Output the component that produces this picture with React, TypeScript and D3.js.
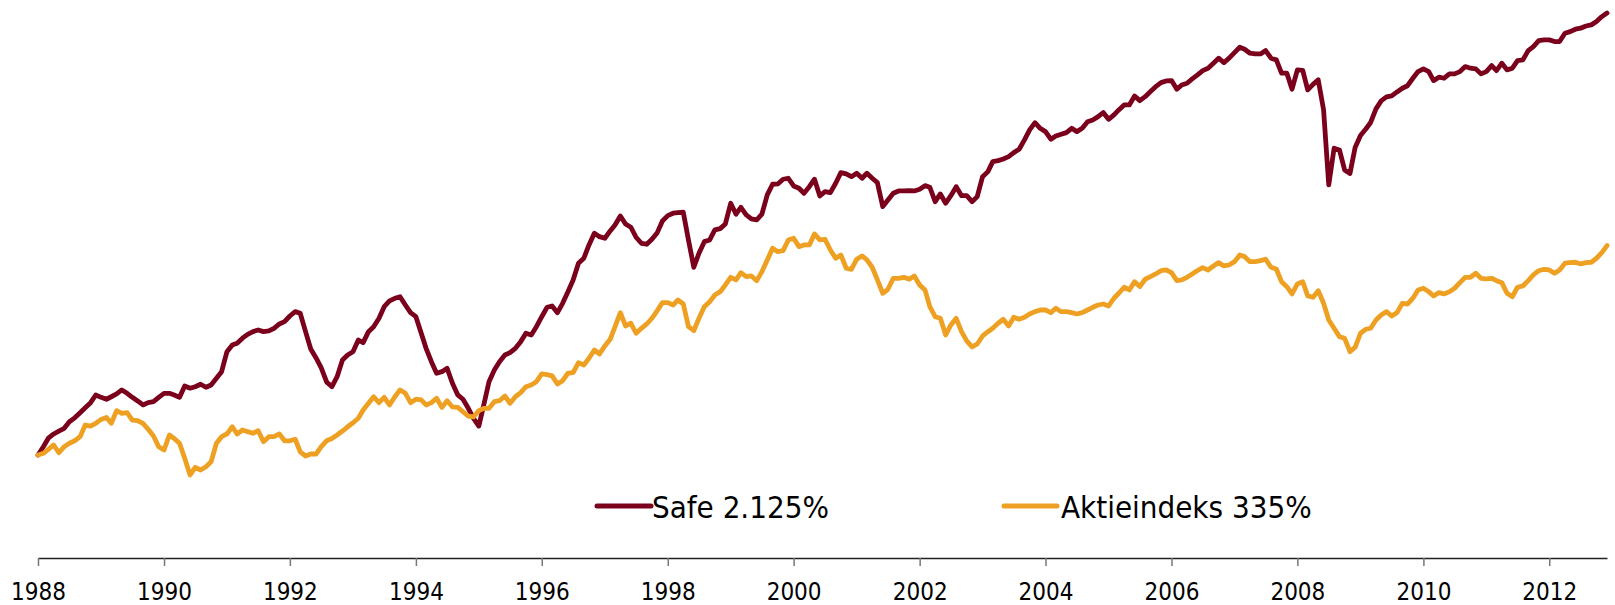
import * as d3 from "d3";

// månedlige indeksværdier, jan 1988 = 100, til og med dec 2012
const safeIndex = [
  100, 106.0, 112.5, 115.9, 118.3, 120.6, 126.3, 129.8, 134.6, 139.4, 144.4, 152.4,
  149.9, 147.9, 150.5, 153.5, 157.9, 154.2, 149.9, 146.2, 142.1, 144.4, 145.4, 149.9,
  154.2, 154.2, 152.4, 149.9, 162.3, 159.8, 161.5, 164.3, 160.9, 163.5, 171.4, 179.5,
  206.5, 216.5, 219.1, 227.0, 233.3, 237.7, 240.5, 237.7, 238.8, 243.4, 250.8, 255.0,
  265.3, 273.5, 270.4, 237.7, 210.5, 197.6, 184.2, 167.0, 161.5, 173.3, 194.8, 201.8,
  206.5, 224.2, 220.0, 237.7, 246.1, 261.1, 283.2, 294.8, 300.4, 303.8, 286.6, 271.6,
  264.0, 235.0, 211.5, 192.5, 177.5, 179.5, 183.8, 165.5, 152.4, 147.9, 138.8, 129.4,
  122.5, 143.8, 167.3, 181.7, 192.5, 201.8, 205.1, 211.5, 221.6, 235.0, 232.2, 246.1,
  264.0, 282.0, 284.6, 271.6, 290.0, 314.7, 341.7, 384.2, 397.9, 436.8, 474.2, 463.0,
  457.9, 482.0, 502.6, 535.4, 506.1, 494.6, 461.1, 442.0, 439.0, 454.6, 476.2, 517.0,
  536.5, 545.7, 548.0, 549.5, 452.4, 373.4, 412.1, 447.1, 452.4, 485.4, 489.9, 506.1,
  585.3, 541.9, 569.1, 539.2, 524.3, 520.6, 541.9, 620.5, 668.9, 670.3, 692.8, 697.6,
  660.9, 650.5, 627.9, 657.6, 692.8, 616.2, 635.1, 630.6, 673.6, 725.6, 719.0, 705.4,
  722.6, 697.6, 722.6, 697.6, 676.4, 571.6, 599.1, 627.9, 638.2, 638.2, 639.6, 638.2,
  645.8, 662.3, 654.9, 591.9, 624.8, 585.3, 617.4, 657.6, 617.4, 617.4, 591.9, 613.1,
  705.4, 730.8, 783.9, 789.5, 798.9, 811.8, 835.0, 855.1, 913.0, 979.4, 1030.5, 990.7,
  967.7, 917.4, 938.9, 950.2, 960.9, 990.7, 967.7, 990.7, 1037.8, 1050.3, 1075, 1105.7,
  1055.4, 1088, 1127, 1167, 1167, 1243, 1202.7, 1237, 1281.4, 1326.9, 1364.9, 1381.4,
  1384.4, 1303.1, 1343, 1359.1, 1400.9, 1441, 1485.1, 1510.2, 1564.6, 1620.2, 1571.2, 1620.2,
  1685.0, 1749, 1725.6, 1677.9, 1669.6, 1669.6, 1708.7, 1620.2, 1601.3, 1458.3, 1458.3, 1303.1,
  1492.6, 1487, 1296.8, 1347.7, 1391.1, 1127, 665.6, 861.2, 851.0, 739.6, 721.6, 866.1,
  942.2, 985.6, 1032, 1134.8, 1200.4, 1234.5, 1243, 1278.7, 1312.2, 1335.5, 1407.6, 1474.9,
  1503.1, 1474.9, 1384.4, 1417.8, 1407.6, 1451.1, 1451.1, 1474.9, 1527.6, 1510.2, 1503.1, 1451.1,
  1474.9, 1538.3, 1485.1, 1564.6, 1492.6, 1510.2, 1593.3, 1601.3, 1708.7, 1757.7, 1833.4, 1842.7,
  1842.7, 1820.8, 1820.8, 1930.9, 1952.8, 1985.8, 1999.6, 2030.6, 2047, 2095.1, 2169.5, 2225,
];

const aktieIndex = [
  100, 101.2, 104.1, 107.3, 101.6, 106.0, 108.6, 110.5, 113.7, 123.4, 122.5, 124.9,
  128.4, 130.2, 124.9, 136.5, 134.0, 134.6, 127.8, 127.2, 124.9, 119.8, 114.3, 106.0,
  103.6, 115.1, 112.3, 108.6, 97.7, 86.9, 91.7, 90.0, 92.1, 95.4, 108.6, 113.7,
  115.9, 121.9, 115.9, 119.2, 117.8, 116.5, 118.6, 109.8, 113.7, 113.7, 115.9, 110.5,
  110.5, 111.7, 102.3, 99.3, 100.7, 100.7, 106.0, 110.5, 112.3, 115.1, 118.3, 121.9,
  125.4, 129.4, 137.1, 143.8, 150.5, 144.4, 149.9, 142.1, 150.5, 157.9, 154.2, 144.4,
  147.9, 147.2, 142.1, 144.4, 148.9, 139.7, 146.4, 140.1, 139.7, 135.5, 131.4, 130.6,
  136.5, 138.8, 138.8, 145.4, 146.4, 151.3, 143.8, 150.5, 154.9, 161.5, 163.5, 167.3,
  176.6, 175.8, 174.2, 164.6, 168.5, 177.5, 178.3, 191.2, 188.1, 197.2, 209.0, 203.2,
  215.0, 225.3, 246.2, 271.6, 247.4, 252.1, 235.0, 243.4, 250.8, 261.1, 275.4, 291.3,
  291.3, 286.6, 296.8, 288.6, 246.2, 239.3, 261.1, 283.2, 293.3, 307.5, 314.7, 329.9,
  348.1, 341.7, 359.6, 349.6, 351.3, 340.0, 362.1, 393.2, 426.8, 416.7, 419.7, 452.4,
  457.9, 431.6, 436.8, 436.8, 471.9, 452.4, 454.6, 421.7, 397.9, 407.2, 370.9, 368.2,
  395.1, 404.3, 393.2, 373.5, 341.7, 311.2, 320.0, 345.7, 345.7, 348.1, 343.4, 351.3,
  329.9, 318.5, 283.2, 264.0, 261.1, 232.2, 249.1, 261.1, 237.6, 222.7, 213.5, 218.0,
  230.6, 237.6, 243.4, 252.1, 259.3, 247.4, 262.9, 259.3, 262.9, 269.1, 273.5, 276.7,
  276.7, 271.6, 280.1, 273.5, 273.5, 271.6, 269.1, 271.6, 276.7, 282.0, 286.6, 288.6,
  284.6, 300.5, 311.2, 324.6, 318.5, 337.6, 326.0, 343.4, 349.6, 356.3, 364.6, 366.4,
  359.6, 340.0, 341.7, 348.1, 356.3, 365.1, 372.5, 366.4, 376.9, 385.8, 376.9, 379.6,
  388.5, 407.2, 402.4, 388.5, 388.5, 391.2, 395.1, 373.5, 369.0, 337.6, 326.0, 309.7,
  332.2, 337.6, 305.4, 302.6, 316.9, 290.0, 258.0, 243.4, 229.5, 226.9, 206.5, 213.0,
  235.0, 241.7, 243.4, 258.0, 267.2, 273.5, 265.3, 271.6, 290.0, 288.6, 300.5, 318.5,
  322.3, 314.7, 305.4, 312.5, 309.7, 314.7, 322.3, 335.3, 348.1, 348.1, 358.0, 345.7,
  344.1, 345.7, 340.0, 335.3, 311.2, 303.9, 324.6, 327.6, 340.0, 353.8, 364.6, 368.2,
  366.4, 358.0, 366.4, 384.2, 385.8, 386.9, 382.3, 385.8, 386.9, 397.9, 413.8, 435,
];

const tickYears = [1988, 1990, 1992, 1994, 1996, 1998, 2000, 2002, 2004, 2006, 2008, 2010, 2012];

const seriesNames = ["Safe 2.125%", "Aktieindeks 335%"];
const seriesColors = ["#7a001c", "#eea023"];

const W = 1615;
const H = 605;
const font = "'DejaVu Sans Condensed', 'DejaVu Sans', sans-serif";

const startDate = new Date(1988, 0, 1);
const months = safeIndex.map((_, i) => d3.timeMonth.offset(startDate, i));

export default function App() {
  const x = d3
    .scaleTime()
    .domain([startDate, months[months.length - 1]])
    .range([38, 1607]);

  const y = d3.scaleLog().domain([100, 2225]).range([455, 13]);

  const line = d3
    .line<number>()
    .x((_, i) => x(months[i]))
    .y((d) => y(d));

  const axisRef = (node: SVGGElement | null) => {
    if (!node) return;
    const g = d3.select(node);
    g.selectAll("*").remove();
    g.call(
      d3
        .axisBottom(x)
        .tickValues(tickYears.map((yr) => new Date(yr, 0, 1)))
        .tickFormat((d) => d3.timeFormat("%Y")(d as Date))
        .tickSize(8)
        .tickSizeOuter(0)
        .tickPadding(17)
    );
    g.attr("font-family", font).attr("font-size", 24);
    g.select(".domain").attr("stroke", "#222").attr("stroke-width", 1.3);
    g.selectAll(".tick line").attr("stroke", "#777").attr("stroke-width", 1.5);
    g.selectAll(".tick text").attr("fill", "#000");
  };

  // legende
  const legend = [
    { x1: 597, x2: 651, tx: 652 },
    { x1: 1004, x2: 1057, tx: 1061 },
  ];

  return (
    <>
      <style>{"body{margin:0}"}</style>
      <svg width={W} height={H} style={{ display: "block" }}>
        <rect width={W} height={H} fill="#fff" />
        {[safeIndex, aktieIndex].map((s, k) => (
          <path
            key={k}
            d={line(s) ?? ""}
            fill="none"
            stroke={seriesColors[k]}
            strokeWidth={4.8}
            strokeLinejoin="round"
            strokeLinecap="round"
          />
        ))}
        <g ref={axisRef} transform="translate(0,558)" />
        {legend.map((l, k) => (
          <g key={k}>
            <line
              x1={l.x1}
              x2={l.x2}
              y1={506}
              y2={506}
              stroke={seriesColors[k]}
              strokeWidth={5}
              strokeLinecap="round"
            />
            <text x={l.tx} y={518} fontFamily={font} fontSize={31} fill="#000">
              {seriesNames[k]}
            </text>
          </g>
        ))}
      </svg>
    </>
  );
}
